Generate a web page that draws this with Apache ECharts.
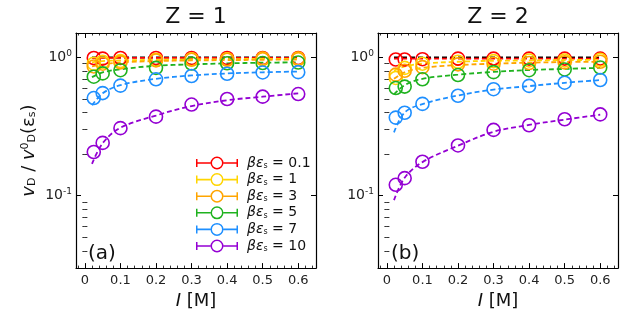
<!DOCTYPE html>
<html>
<head>
<meta charset="utf-8">
<script src="https://cdn.jsdelivr.net/npm/echarts@6/dist/echarts.min.js"></script>
<style>html,body{margin:0;padding:0;background:#fff}#c{width:630px;height:315px}</style>
</head>
<body>
<div id="c"></div>
<script>
// ---------- data ----------
const I_points = [0.025, 0.05, 0.1, 0.2, 0.3, 0.4, 0.5, 0.6];
const I_curve  = [0.02, 0.05, 0.1, 0.2, 0.3, 0.4, 0.5, 0.6];
const betaEps  = ['0.1', '1', '3', '5', '7', '10'];

// panel (a), Z = 1 : simulation points
const pa_01 = [0.99, 0.98, 0.99, 0.99, 0.99, 0.99, 0.99, 0.99];
const pa_1  = [0.90, 0.93, 0.94, 0.96, 0.97, 0.97, 0.98, 0.98];
const pa_3  = [0.86, 0.90, 0.92, 0.95, 0.96, 0.96, 0.97, 0.97];
const pa_5  = [0.725, 0.766, 0.808, 0.84, 0.902, 0.906, 0.91, 0.917];
const pa_7  = [0.508, 0.552, 0.625, 0.694, 0.733, 0.761, 0.778, 0.782];
const pa_10 = [0.207, 0.241, 0.308, 0.373, 0.456, 0.50, 0.52, 0.543];
// panel (a) theory (dashed)
const ca_ref = [1, 1, 1, 1, 1, 1, 1, 1];
const ca_01 = [0.99, 0.99, 0.99, 0.99, 0.99, 0.99, 0.99, 0.99];
const ca_1  = [0.92, 0.94, 0.95, 0.96, 0.965, 0.97, 0.975, 0.975];
const ca_3  = [0.86, 0.89, 0.92, 0.94, 0.95, 0.955, 0.96, 0.965];
const ca_5  = [0.72, 0.78, 0.82, 0.87, 0.89, 0.905, 0.915, 0.92];
const ca_7  = [0.45, 0.55, 0.63, 0.70, 0.74, 0.765, 0.78, 0.79];
const ca_10 = [0.17, 0.24, 0.31, 0.38, 0.445, 0.49, 0.52, 0.55];

// panel (b), Z = 2 : simulation points
const pb_01 = [0.965, 0.965, 0.97, 0.98, 0.98, 0.98, 0.98, 0.98];
const pb_1  = [0.71, 0.84, 0.90, 0.93, 0.94, 0.95, 0.95, 0.96];
const pb_3  = [0.75, 0.80, 0.85, 0.89, 0.90, 0.91, 0.92, 0.93];
const pb_5  = [0.60, 0.615, 0.694, 0.745, 0.782, 0.808, 0.818, 0.845];
const pb_7  = [0.367, 0.398, 0.461, 0.528, 0.589, 0.622, 0.656, 0.686];
const pb_10 = [0.120, 0.134, 0.176, 0.231, 0.299, 0.323, 0.357, 0.387];
// panel (b) theory (dashed)
const cb_ref = [1, 1, 1, 1, 1, 1, 1, 1];
const cb_01 = [0.98, 0.98, 0.98, 0.98, 0.98, 0.98, 0.98, 0.98];
const cb_1  = [0.80, 0.86, 0.90, 0.93, 0.945, 0.95, 0.955, 0.96];
const cb_3  = [0.70, 0.78, 0.84, 0.88, 0.90, 0.915, 0.925, 0.93];
const cb_5  = [0.54, 0.63, 0.70, 0.75, 0.785, 0.81, 0.825, 0.84];
const cb_7  = [0.287, 0.40, 0.46, 0.53, 0.585, 0.62, 0.655, 0.685];
const cb_10 = [0.093, 0.135, 0.175, 0.23, 0.29, 0.325, 0.355, 0.385];

// ticks
const xMajor = [0, 0.1, 0.2, 0.3, 0.4, 0.5, 0.6];
const xMinor = [-0.02, 0.02, 0.04, 0.06, 0.08, 0.12, 0.14, 0.16, 0.18, 0.22, 0.24, 0.26, 0.28,
                0.32, 0.34, 0.36, 0.38, 0.42, 0.44, 0.46, 0.48, 0.52, 0.54, 0.56, 0.58, 0.62, 0.64];
const yMajor = [0.1, 1];
const yMinor = [0.03, 0.04, 0.05, 0.06, 0.07, 0.08, 0.09, 0.2, 0.3, 0.4, 0.5, 0.6, 0.7, 0.8, 0.9];
const yMajorLabels = ['10{sup|-1}', '10{sup|0}'];
const panelTitles = ['Z = 1', 'Z = 2'];
const panelLetters = ['(a)', '(b)'];

// ---------- styles ----------
const colors = ['#ff0000', '#ffd500', '#ffa500', '#1fb21f', '#1e8fff', '#9400d3'];
const FONT = 'DejaVu Sans';
const panels = [
  {pts: [pa_01, pa_1, pa_3, pa_5, pa_7, pa_10], cur: [ca_01, ca_1, ca_3, ca_5, ca_7, ca_10], ref: ca_ref},
  {pts: [pb_01, pb_1, pb_3, pb_5, pb_7, pb_10], cur: [cb_01, cb_1, cb_3, cb_5, cb_7, cb_10], ref: cb_ref}
];
const grids = [
  {left: 76, right: 314, top: 33, bottom: 44},
  {left: 378, right: 12, top: 33, bottom: 44}
];

const xAxes = [], yAxes = [], series = [];
const zip = (xs, ys) => xs.map((x, i) => [x, ys[i]]);

grids.forEach((g, gi) => {
  const xBase = {gridIndex: gi, type: 'value', min: -0.025, max: 0.65, splitLine: {show: false}};
  xAxes.push(Object.assign({}, xBase, {
    position: 'bottom',
    axisLine: {show: true, onZero: false, lineStyle: {color: '#000', width: 1.2}},
    axisTick: {show: true, inside: true, length: 5, customValues: xMajor, lineStyle: {color: '#000', width: 1}},
    axisLabel: {show: true, customValues: xMajor, formatter: v => String(Math.round(v * 10) / 10),
      fontSize: 13, fontFamily: FONT, color: '#222', margin: 6},
    name: '{i|I} [M]', nameLocation: 'middle', nameGap: 21,
    nameTextStyle: {fontSize: 18, fontFamily: FONT, color: '#111', rich: {i: {fontSize: 18, fontStyle: 'italic', fontFamily: FONT}}}
  }));
  xAxes.push(Object.assign({}, xBase, {
    position: 'bottom', axisLine: {show: false},
    axisTick: {show: true, inside: true, length: 2.5, customValues: xMinor, lineStyle: {color: '#000', width: 0.8}},
    axisLabel: {show: false}
  }));
  xAxes.push(Object.assign({}, xBase, {
    position: 'top',
    axisLine: {show: true, onZero: false, lineStyle: {color: '#000', width: 1.2}},
    axisTick: {show: true, inside: true, length: 5, customValues: xMajor, lineStyle: {color: '#000', width: 1}},
    axisLabel: {show: false}
  }));
  xAxes.push(Object.assign({}, xBase, {
    position: 'top', axisLine: {show: false},
    axisTick: {show: true, inside: true, length: 2.5, customValues: xMinor, lineStyle: {color: '#000', width: 0.8}},
    axisLabel: {show: false}
  }));

  const yBase = {gridIndex: gi, type: 'log', logBase: 10, min: 0.03, max: 1.5, splitLine: {show: false}};
  const yMain = Object.assign({}, yBase, {
    position: 'left',
    axisLine: {show: true, onZero: false, lineStyle: {color: '#000', width: 1.2}},
    axisTick: {show: true, inside: true, length: 5, customValues: yMajor, lineStyle: {color: '#000', width: 1}},
    axisLabel: {show: true, customValues: yMajor,
      formatter: v => yMajorLabels[yMajor.findIndex(m => Math.abs(m - v) < 1e-6)] || '',
      fontSize: 14, fontFamily: FONT, color: '#222', margin: 4,
      rich: {sup: {fontSize: 9, fontFamily: FONT, color: '#222', verticalAlign: 'top', padding: [0, 0, 8, 0]}}}
  });
  if (gi === 0) {
    yMain.name = '{i|v}{sub|D} / {i|v}{sup|0}{sub|D}(ε{sub|s})';
    yMain.nameLocation = 'middle';
    yMain.nameGap = 38;
    yMain.nameRotate = 90;
    yMain.nameTextStyle = {fontSize: 18, fontFamily: FONT, color: '#111',
      rich: {
        i: {fontSize: 18, fontStyle: 'italic', fontFamily: FONT},
        sub: {fontSize: 11, fontFamily: FONT, verticalAlign: 'bottom', padding: [6, 0, 0, 0]},
        sup: {fontSize: 11, fontFamily: FONT, verticalAlign: 'top', padding: [0, 0, 6, 0]}
      }};
  }
  yAxes.push(yMain);
  yAxes.push(Object.assign({}, yBase, {
    position: 'left', axisLine: {show: false},
    axisTick: {show: true, inside: true, length: 2.5, customValues: yMinor, lineStyle: {color: '#000', width: 0.8}},
    axisLabel: {show: false}
  }));
  yAxes.push(Object.assign({}, yBase, {
    position: 'right',
    axisLine: {show: true, onZero: false, lineStyle: {color: '#000', width: 1.2}},
    axisTick: {show: true, inside: true, length: 5, customValues: yMajor, lineStyle: {color: '#000', width: 1}},
    axisLabel: {show: false}
  }));
  yAxes.push(Object.assign({}, yBase, {
    position: 'right', axisLine: {show: false},
    axisTick: {show: true, inside: true, length: 2.5, customValues: yMinor, lineStyle: {color: '#000', width: 0.8}},
    axisLabel: {show: false}
  }));

  const P = panels[gi];
  // black reference dashed line
  series.push({
    name: 'ref' + gi, type: 'line', xAxisIndex: gi * 4, yAxisIndex: gi * 4,
    data: zip(I_curve, P.ref), showSymbol: false, symbol: 'none', silent: true,
    lineStyle: {color: '#000', width: 1.8, type: [5, 3]}, z: 2
  });
  P.cur.forEach((arr, k) => {
    series.push({
      name: 'curve' + gi + '_' + k, type: 'line', xAxisIndex: gi * 4, yAxisIndex: gi * 4,
      data: zip(I_curve, arr), showSymbol: false, symbol: 'none', smooth: 0.35, silent: true,
      lineStyle: {color: colors[k], width: 1.8, type: [5, 3]}, z: 3
    });
  });
  P.pts.forEach((arr, k) => {
    series.push({
      name: betaEps[k], type: 'scatter', xAxisIndex: gi * 4, yAxisIndex: gi * 4,
      data: zip(I_points, arr), symbol: 'circle', symbolSize: 13,
      itemStyle: {color: 'rgba(0,0,0,0)', borderColor: colors[k], borderWidth: 1.6, opacity: 1},
      emphasis: {disabled: true}, z: 4
    });
  });
});

const legendIcon = 'path://M0 2.5H1.5V10.5H0Z M1.5 5.7H14.5V7.3H1.5Z M27.5 5.7H40.5V7.3H27.5Z M40.5 2.5H42V10.5H40.5Z ' +
  'M27.5 6.5A6.5 6.5 0 1 0 14.5 6.5A6.5 6.5 0 1 0 27.5 6.5Z M26 6.5A5 5 0 1 1 16 6.5A5 5 0 1 1 26 6.5Z';

const option = {
  animation: false,
  backgroundColor: '#fff',
  grid: grids,
  xAxis: xAxes,
  yAxis: yAxes,
  legend: {
    orient: 'vertical', left: 191, top: 151, itemWidth: 42, itemHeight: 13, itemGap: 2.6,
    data: betaEps.map((n, k) => ({name: n, icon: legendIcon, itemStyle: {color: colors[k], borderWidth: 0}})),
    formatter: n => '{g|βε}{s|s}{t| = ' + n + '}',
    selectedMode: false,
    textStyle: {fontSize: 14, fontFamily: FONT, color: '#111',
      rich: {
        g: {fontSize: 14, fontStyle: 'italic', fontFamily: FONT, color: '#111', padding: [0, 0, 0, 4]},
        s: {fontSize: 8, fontFamily: FONT, color: '#111', verticalAlign: 'bottom', padding: [5, 0, 0, 0]},
        t: {fontSize: 14, fontFamily: FONT, color: '#111'}
      }}
  },
  graphic: [
    {type: 'text', x: 196, y: 17, style: {text: panelTitles[0], font: '22px "DejaVu Sans"', fill: '#111', align: 'center', verticalAlign: 'middle'}},
    {type: 'text', x: 498, y: 17, style: {text: panelTitles[1], font: '22px "DejaVu Sans"', fill: '#111', align: 'center', verticalAlign: 'middle'}},
    {type: 'text', x: 88, y: 254, style: {text: panelLetters[0], font: '20px "DejaVu Sans"', fill: '#111', align: 'left', verticalAlign: 'middle'}},
    {type: 'text', x: 391, y: 254, style: {text: panelLetters[1], font: '20px "DejaVu Sans"', fill: '#111', align: 'left', verticalAlign: 'middle'}}
  ],
  series: series
};

const chart = echarts.init(document.getElementById('c'), null, {renderer: 'canvas'});
chart.setOption(option);
</script>
</body>
</html>
